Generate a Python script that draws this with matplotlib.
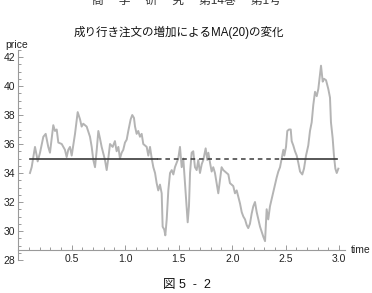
import matplotlib.pyplot as plt
from matplotlib.ticker import MultipleLocator

plt.rcParams['font.family'] = ['Liberation Sans', 'Noto Sans CJK JP', 'DejaVu Sans']

# price path
time = [0.110, 0.126, 0.157, 0.173, 0.182, 0.204, 0.235, 0.257, 0.281, 0.297,
        0.328, 0.344, 0.360, 0.375, 0.407, 0.437, 0.453, 0.468, 0.484, 0.500,
        0.531, 0.556, 0.578, 0.593, 0.608, 0.640, 0.671, 0.687, 0.702, 0.718,
        0.734, 0.749, 0.764, 0.780, 0.811, 0.827, 0.842, 0.858, 0.883, 0.904,
        0.920, 0.936, 0.951, 0.967, 0.982, 0.998, 1.014, 1.029, 1.051, 1.066,
        1.082, 1.092, 1.107, 1.122, 1.138, 1.154, 1.169, 1.201, 1.216, 1.232,
        1.248, 1.263, 1.279, 1.294, 1.309, 1.325, 1.341, 1.350, 1.365, 1.375,
        1.388, 1.403, 1.419, 1.435, 1.450, 1.465, 1.496, 1.512, 1.528, 1.543,
        1.559, 1.575, 1.584, 1.596, 1.606, 1.621, 1.636, 1.652, 1.668, 1.683,
        1.699, 1.715, 1.730, 1.752, 1.767, 1.777, 1.793, 1.808, 1.823, 1.839,
        1.855, 1.870, 1.886, 1.901, 1.917, 1.933, 1.949, 1.964, 1.979, 2.010,
        2.026, 2.042, 2.073, 2.089, 2.104, 2.120, 2.136, 2.150, 2.166, 2.182,
        2.197, 2.213, 2.229, 2.260, 2.291, 2.307, 2.322, 2.337, 2.353, 2.384,
        2.416, 2.431, 2.447, 2.463, 2.478, 2.487, 2.503, 2.515, 2.531, 2.547,
        2.556, 2.571, 2.587, 2.603, 2.618, 2.634, 2.655, 2.671, 2.690, 2.711,
        2.727, 2.743, 2.758, 2.774, 2.790, 2.805, 2.821, 2.830, 2.846, 2.858,
        2.877, 2.898, 2.914, 2.923, 2.939, 2.951, 2.964, 2.977, 2.992]
price = [34.0, 34.4, 35.8, 35.2, 34.8, 35.4, 36.5, 36.7, 35.8, 35.4,
         37.3, 36.9, 37.0, 36.1, 36.0, 35.6, 35.1, 35.6, 35.8, 35.2,
         36.7, 38.2, 37.7, 37.2, 37.4, 37.2, 36.5, 35.8, 34.9, 34.4,
         35.6, 36.9, 36.4, 35.8, 34.9, 34.2, 35.0, 36.0, 35.8, 36.2,
         35.5, 35.8, 35.0, 35.4, 35.6, 36.1, 36.3, 36.9, 37.7, 38.0,
         37.8, 37.2, 36.7, 36.9, 36.5, 36.7, 36.0, 35.8, 35.2, 35.8,
         35.0, 34.4, 34.0, 33.3, 32.8, 33.2, 32.6, 30.3, 30.1, 29.7,
         30.8, 32.8, 34.0, 34.2, 33.9, 34.4, 35.0, 35.8, 34.4, 35.0,
         33.3, 31.7, 30.6, 31.7, 34.0, 35.4, 35.5, 34.4, 34.2, 34.9,
         34.0, 34.6, 34.9, 35.7, 34.9, 35.4, 34.7, 34.1, 34.4, 34.0,
         33.3, 32.6, 33.5, 34.4, 34.2, 34.1, 34.0, 33.9, 33.3, 33.1,
         32.6, 32.8, 31.9, 31.3, 31.0, 30.8, 30.4, 30.2, 30.5, 31.2,
         31.7, 32.0, 31.3, 30.3, 29.6, 29.3, 31.5, 30.8, 31.7, 32.7,
         33.7, 34.1, 34.4, 35.0, 35.6, 35.2, 35.8, 36.9, 37.0, 37.0,
         36.2, 35.9, 35.5, 35.2, 34.7, 34.1, 33.9, 34.3, 35.2, 35.9,
         36.9, 37.5, 38.7, 39.6, 39.3, 39.8, 40.8, 41.4, 40.3, 40.5,
         40.4, 39.8, 39.2, 37.5, 36.4, 35.2, 34.3, 34.0, 34.3]

# MA(20) level: solid where it holds, dashed in between
ma_level = 35.0
ma_solid = [(0.11, 1.30), (2.47, 2.98)]
ma_dashed = (1.30, 2.47)

fig = plt.figure(figsize=(3.72, 2.93), dpi=100)
ax = fig.add_axes([0.0489, 0.1126, 0.8773, 0.7176])

ax.plot(time, price, color='#b4b4b4', lw=1.4)
for t0, t1 in ma_solid:
    ax.plot([t0, t1], [ma_level, ma_level], color='#3a3a3a', lw=1.2)
ax.plot(ma_dashed, [ma_level, ma_level], color='#3a3a3a', lw=1.1,
        dashes=(3, 2.5))

ax.set_xlim(0, 3.05)
ax.set_ylim(28, 42.5)
for s in ['top', 'right']:
    ax.spines[s].set_visible(False)
ax.spines['bottom'].set_position(('data', 28.7))
for s in ['left', 'bottom']:
    ax.spines[s].set_color('#9a9a9a')
    ax.spines[s].set_linewidth(0.8)

ax.set_xticks([0.5, 1.0, 1.5, 2.0, 2.5, 3.0])
ax.set_xticklabels(['0.5', '1.0', '1.5', '2.0', '2.5', '3.0'])
ax.set_yticks([28, 30, 32, 34, 36, 38, 40, 42])
ax.xaxis.set_minor_locator(MultipleLocator(0.1))
ax.yaxis.set_minor_locator(MultipleLocator(0.5))
ax.tick_params(which='both', direction='in', color='#9a9a9a', width=0.7,
               labelsize=7.5, labelcolor='#222222')
ax.tick_params(which='major', length=3.5)
ax.tick_params(which='minor', length=2)
ax.tick_params(axis='x', pad=3)
ax.tick_params(axis='y', pad=2)

fig.text(0.015, 0.848, 'price', fontsize=7.5, color='#222222', va='center')
fig.text(0.943, 0.147, 'time', fontsize=7.5, color='#222222', va='center')

fig.text(0.481, 0.89, '成り行き注文の増加によるMA(20)の変化', fontsize=8.3,
         ha='center', va='center', color='#111111')
fig.text(0.502, 0.027, '図 5  -  2', fontsize=9, ha='center', va='center',
         color='#111111')
# running head, cut by the top edge
fig.text(0.50, 0.975, '商　 学　 研　 究　 第14巻　 第1号', fontsize=8.5,
         ha='center', va='bottom', color='#333333')

fig.savefig('out.png', dpi=100, facecolor='white')
